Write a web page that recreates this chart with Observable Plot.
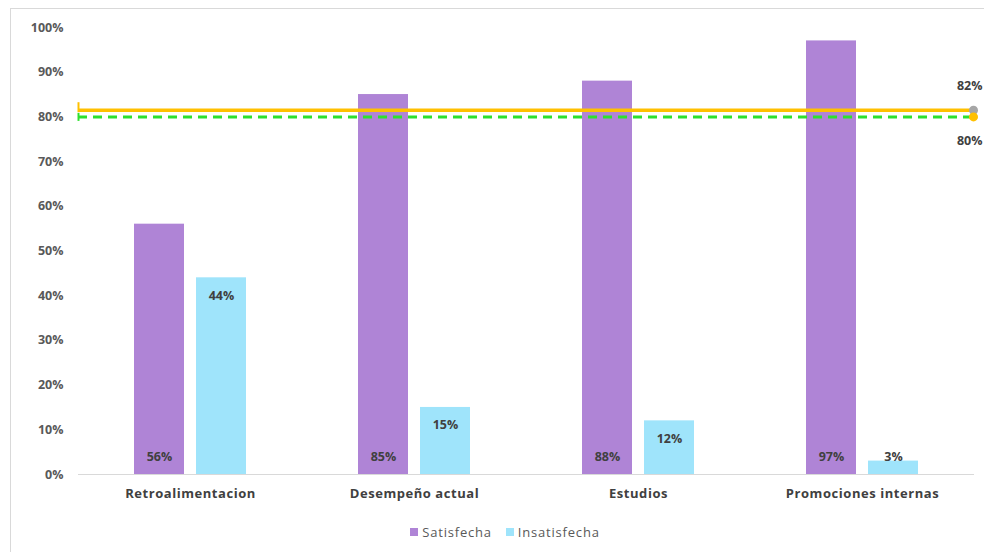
<!DOCTYPE html>
<html>
<head>
<meta charset="utf-8">
<script src="https://cdn.jsdelivr.net/npm/d3@7"></script>
<script src="https://cdn.jsdelivr.net/npm/@observablehq/plot@0.6"></script>
<style>
  html, body { margin: 0; padding: 0; background: #fff; overflow: hidden; }
  body { width: 984px; height: 552px; position: relative; font-family: "Open Sans", "Liberation Sans", sans-serif; }
  #frame { position: absolute; left: 10px; top: 8px; width: 1000px; height: 600px; border: 1px solid #d9d9d9; box-sizing: border-box; }
  #chart { position: absolute; left: 0; top: 0; }
  #chart g[aria-label="x-axis tick label"] text { letter-spacing: 0.55px; }
  #legend { position: absolute; left: 0; top: 522px; width: 1010px; text-align: center; font-size: 13px; color: #595959; letter-spacing: 0.8px; }
  #legend span.item { display: inline-flex; align-items: center; margin: 0 7px; }
  #legend span.sw { display: inline-block; width: 8px; height: 8px; margin-right: 4px; }
</style>
</head>
<body>
<div id="frame"></div>
<div id="chart"></div>
<div id="legend"></div>
<script>
const categories = ["Retroalimentacion", "Desempeño actual", "Estudios", "Promociones internas"];
const satisfecha = [0.56, 0.85, 0.88, 0.97];
const insatisfecha = [0.44, 0.15, 0.12, 0.03];
const seriesNames = ["Satisfecha", "Insatisfecha"];
const seriesColors = ["#AF84D6", "#9FE4FB"];
const metaValue = 0.80;
const promedioValue = 0.815;
const yTicks = [0, 0.1, 0.2, 0.3, 0.4, 0.5, 0.6, 0.7, 0.8, 0.9, 1.0];

const sat = categories.map((c, i) => ({category: c, value: satisfecha[i]}));
const ins = categories.map((c, i) => ({category: c, value: insatisfecha[i]}));
const pct = d3.format(".0%");

const vbar = {
  draw(ctx, size) {
    const r = Math.sqrt(size / Math.PI);
    ctx.moveTo(0, -r);
    ctx.lineTo(0, r);
  }
};

const FONT = "'Open Sans', 'Liberation Sans', sans-serif";
const labelStyle = {fontSize: 12.5, fontWeight: "bold", fill: "#404040", fontFamily: FONT};

const plot = Plot.plot({
  width: 984,
  height: 510,
  marginLeft: 78,
  marginRight: 10,
  marginTop: 27,
  marginBottom: 36,
  style: {fontFamily: FONT, background: "transparent"},
  x: {domain: categories, padding: 0, label: null},
  y: {domain: [0, 1], label: null},
  marks: [
    Plot.axisY({ticks: yTicks, tickFormat: pct, tickSize: 0, tickPadding: 15, fontSize: 12.5, fontWeight: "bold", color: "#595959", label: null}),
    Plot.axisX({tickSize: 0, tickPadding: 14, fontSize: 13, fontWeight: "bold", color: "#404040", label: null}),
    Plot.ruleY([0], {stroke: "#d9d9d9", strokeWidth: 1}),
    Plot.barY(sat, {x: "category", y: "value", fill: seriesColors[0], insetLeft: 56, insetRight: 118}),
    Plot.barY(ins, {x: "category", y: "value", fill: seriesColors[1], insetLeft: 118, insetRight: 56}),
    Plot.text(sat, {x: "category", y: () => 0, text: d => pct(d.value), dx: -31, dy: -18, ...labelStyle}),
    Plot.text(ins.filter(d => d.value >= 0.08), {x: "category", y: "value", text: d => pct(d.value), dx: 31, dy: 18, ...labelStyle}),
    Plot.text(ins.filter(d => d.value < 0.08), {x: "category", y: () => 0, text: d => pct(d.value), dx: 31, dy: -18, ...labelStyle}),
    Plot.ruleY([promedioValue], {stroke: "#FFC000", strokeWidth: 3.5}),
    Plot.ruleY([metaValue], {stroke: "#2EE02E", strokeWidth: 3, strokeDasharray: "9,6"}),
    Plot.dot([promedioValue], {y: d => d, frameAnchor: "left", symbol: vbar, r: 5, stroke: "#FFC000", strokeWidth: 2, dy: -3}),
    Plot.dot([metaValue], {y: d => d, frameAnchor: "left", symbol: vbar, r: 4, stroke: "#2EE02E", strokeWidth: 2}),
    Plot.dot([promedioValue], {y: d => d, frameAnchor: "right", r: 4.5, fill: "#A6A6A6", dx: -1}),
    Plot.dot([metaValue], {y: d => d, frameAnchor: "right", r: 4.5, fill: "#FFC000", dx: -1}),
    Plot.text([promedioValue], {y: d => d, frameAnchor: "right", text: d => pct(d), dx: 8, dy: -24, ...labelStyle}),
    Plot.text([metaValue], {y: d => d, frameAnchor: "right", text: d => pct(d), dx: 8, dy: 24, ...labelStyle})
  ]
});
document.getElementById("chart").appendChild(plot);

const legend = document.getElementById("legend");
seriesNames.forEach((name, i) => {
  const item = document.createElement("span");
  item.className = "item";
  const sw = document.createElement("span");
  sw.className = "sw";
  sw.style.background = seriesColors[i];
  item.appendChild(sw);
  item.appendChild(document.createTextNode(name));
  legend.appendChild(item);
});
</script>
</body>
</html>
